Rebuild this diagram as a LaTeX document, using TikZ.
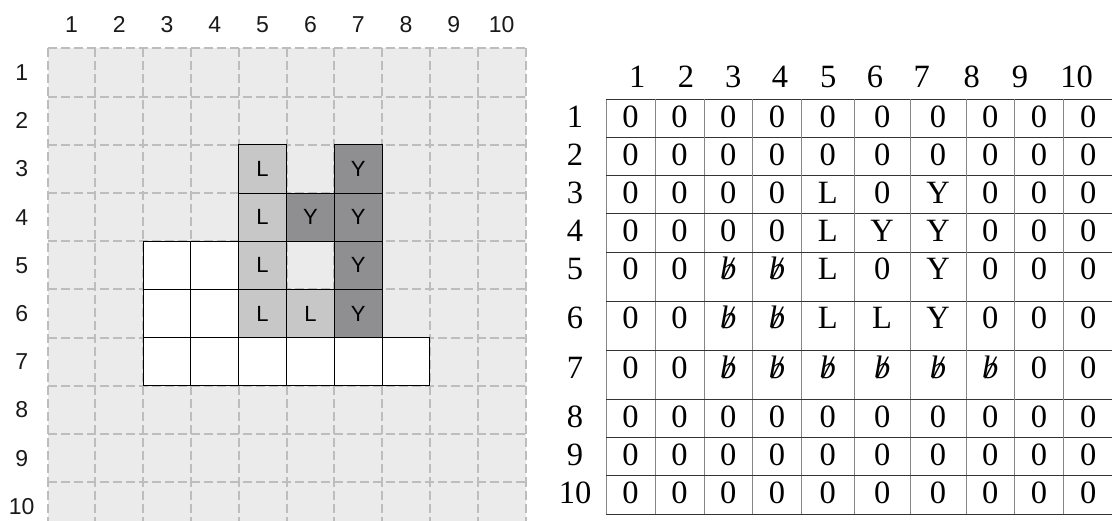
\documentclass[tikz,border=0pt]{standalone}
\usepackage{fontspec}
\setmainfont{Liberation Serif}
\setsansfont{Liberation Sans}
\usetikzlibrary{positioning}
\definecolor{gridbg}{HTML}{EBEBEC}
\definecolor{griddash}{HTML}{BDBDBD}
\definecolor{lcell}{HTML}{C7C7C7}
\definecolor{ycell}{HTML}{8F8F91}
\definecolor{rulegray}{HTML}{858585}
\definecolor{ruledark}{HTML}{333333}
\newcommand{\blanksym}{\ooalign{\itshape b\cr\hidewidth\itshape /\hidewidth\cr}}
\def\B{\blanksym}
% column and row lines of the table
\def\tx{{606,655,704,752.7,801.3,854.3,910,966,1014.7,1063.3,1113}}
\def\ty{{99.5,137.3,175.7,213.7,252,301,350.3,399.3,437.7,475.7,514.3}}

\begin{document}
\begin{tikzpicture}[x=1pt, y=-1pt,
  lbl/.style={font=\fontsize{23}{23}\sffamily, text=black!90},
  cellbox/.style={draw=black, line width=0.9pt, minimum width=47.8pt, minimum height=48.2pt,
    inner sep=0pt, outer sep=0pt, anchor=north west, font=\fontsize{22}{22}\sffamily},
  whitecell/.style={cellbox, fill=white},
  lcellbox/.style={cellbox, fill=lcell},
  ycellbox/.style={cellbox, fill=ycell},
  tbl/.style={font=\fontsize{32.5}{32.5}\selectfont, anchor=base, inner sep=0pt}]

\useasboundingbox (0,0) rectangle (1112,521);
\clip (0,0) rectangle (1112,521);

% Grid background
\fill[gridbg] (47.5,48.5) rectangle (525.5,530.5);
\foreach \i in {0,...,10} {
  \draw[griddash, line width=2pt, dash pattern=on 9pt off 4pt] ({47.5+\i*47.8},48.5) -- ({47.5+\i*47.8},530.5);
  \draw[griddash, line width=2pt, dash pattern=on 9pt off 4pt] (47.5,{48.5+\i*48.2}) -- (525.5,{48.5+\i*48.2});
}

% Grid labels
\foreach \i in {1,...,10} {
  \node[lbl] (colh-\i) at ({47.5+(\i-0.5)*47.8},24.5) {\i};
  \node[lbl] (rowh-\i) at (21.7,{48.5+(\i-0.5)*48.2}) {\i};
}

% Occupied cells
\foreach \r/\c in {5/3,5/4,6/3,6/4,7/3,7/4,7/5,7/6,7/7,7/8}
  \node[whitecell] (g-\r-\c) at ({47.5+(\c-1)*47.8},{48.5+(\r-1)*48.2}) {};
\foreach \r/\c in {3/5,4/5,5/5,6/5,6/6}
  \node[lcellbox] (g-\r-\c) at ({47.5+(\c-1)*47.8},{48.5+(\r-1)*48.2}) {L};
\foreach \r/\c in {3/7,4/6,4/7,5/7,6/7}
  \node[ycellbox] (g-\r-\c) at ({47.5+(\c-1)*47.8},{48.5+(\r-1)*48.2}) {Y};

% Table rules
\foreach \k in {0,...,10} {
  \pgfmathsetmacro\xk{\tx[\k]}
  \pgfmathsetmacro\yk{\ty[\k]}
  \draw[rulegray, line width=1pt] (\xk,99.5) -- (\xk,514.3);
  \draw[ruledark, line width=0.9pt] (606,\yk) -- (1113,\yk);
}

% Table headers
\foreach \x [count=\c] in {637.3,686,733.3,780,828.3,875,921.7,971.7,1020,1076.7}
  \node[tbl] (th-\c) at (\x,87.5) {\c};

% Table entries
\foreach \vals [count=\r] in {
  {0,0,0,0,0,0,0,0,0,0},
  {0,0,0,0,0,0,0,0,0,0},
  {0,0,0,0,L,0,Y,0,0,0},
  {0,0,0,0,L,Y,Y,0,0,0},
  {0,0,\B,\B,L,0,Y,0,0,0},
  {0,0,\B,\B,L,L,Y,0,0,0},
  {0,0,\B,\B,\B,\B,\B,\B,0,0},
  {0,0,0,0,0,0,0,0,0,0},
  {0,0,0,0,0,0,0,0,0,0},
  {0,0,0,0,0,0,0,0,0,0}} {
  \pgfmathsetmacro\yb{\ty[\r-1]+28}
  \node[tbl] (rh-\r) at (575,\yb) {\r};
  \foreach \v [count=\c] in \vals {
    \pgfmathsetmacro\xa{\tx[\c-1]}
    \pgfmathsetmacro\xb{\tx[\c]}
    \node[tbl] (t-\r-\c) at ({(\xa+\xb)/2},\yb) {\v};
  }
}

\end{tikzpicture}
\end{document}
